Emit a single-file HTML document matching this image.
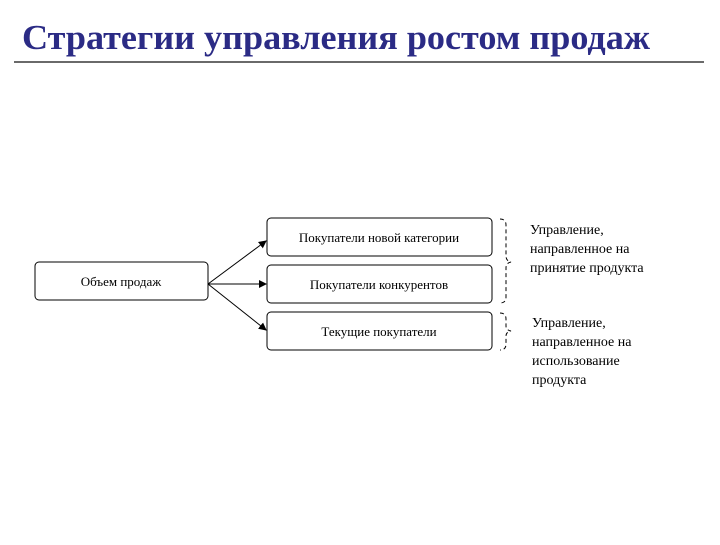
<!DOCTYPE html>
<html><head><meta charset="utf-8"><style>
body{margin:0;background:#fff;width:720px;height:540px;overflow:hidden}
</style></head><body>
<svg width="720" height="540" xmlns="http://www.w3.org/2000/svg" font-family="Liberation Serif, serif">
<text x="22" y="49" font-size="35" font-weight="bold" fill="#2b2b85" textLength="628" lengthAdjust="spacingAndGlyphs">Стратегии управления ростом продаж</text>
<line x1="14" y1="62" x2="704" y2="62" stroke="#111" stroke-width="1.3"/>
<defs><marker id="a" markerWidth="8" markerHeight="8" refX="7" refY="4" orient="auto" markerUnits="userSpaceOnUse"><path d="M0,0 L8,4 L0,8 z" fill="#000"/></marker></defs>
<g fill="#fff" stroke="#000" stroke-width="1">
<rect x="35" y="262" width="173" height="38" rx="4"/>
<rect x="267" y="218" width="225" height="38" rx="4"/>
<rect x="267" y="265" width="225" height="38" rx="4"/>
<rect x="267" y="312" width="225" height="38" rx="4"/>
</g>
<g stroke="#000" stroke-width="1" marker-end="url(#a)">
<line x1="208" y1="284" x2="266" y2="241"/>
<line x1="208" y1="284" x2="266" y2="284"/>
<line x1="208" y1="284" x2="266" y2="330"/>
</g>
<g font-size="13" text-anchor="middle" fill="#000">
<text x="121" y="286">Объем продаж</text>
<text x="379" y="242">Покупатели новой категории</text>
<text x="379" y="289">Покупатели конкурентов</text>
<text x="379" y="336">Текущие покупатели</text>
</g>
<g fill="none" stroke="#000" stroke-width="1" stroke-dasharray="4,3">
<path d="M500,219 Q506,219 506,225 L506,256 Q506,261 511,262 Q506,263 506,268 L506,297 Q506,303 500,303"/>
<path d="M500,313 Q506,313 506,319 L506,326 Q506,330 511,331 Q506,332 506,336 L506,344 Q506,350 500,350"/>
</g>
<g font-size="14" fill="#000">
<text x="530" y="234">Управление,</text>
<text x="530" y="253">направленное на</text>
<text x="530" y="272">принятие продукта</text>
<text x="532" y="327">Управление,</text>
<text x="532" y="346">направленное на</text>
<text x="532" y="365">использование</text>
<text x="532" y="384">продукта</text>
</g>
</svg>
</body></html>
